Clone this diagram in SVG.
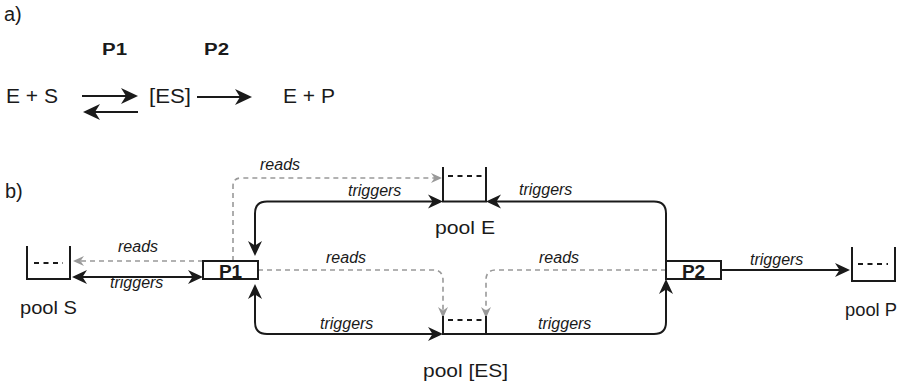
<svg xmlns="http://www.w3.org/2000/svg" width="908" height="387" viewBox="0 0 908 387">
  <style>
    text { font-family: "Liberation Sans", Arial, sans-serif; fill: #1a1a1a; }
    .big { font-size: 20px; }
    .pool-label { font-size: 17.5px; }
    .proc { font-size: 19px; font-weight: bold; text-anchor: middle; }
    .head { font-size: 16px; font-weight: bold; }
    .lbl { font-size: 16px; font-style: italic; }
    .pool { fill: none; stroke: #1a1a1a; stroke-width: 2; }
    .slot { fill: none; stroke: #1a1a1a; stroke-width: 2; stroke-dasharray: 5 4.5; }
    .box { fill: #fff; stroke: #1a1a1a; stroke-width: 2; }
    .trig { fill: none; stroke: #1a1a1a; stroke-width: 2; }
    .read { fill: none; stroke: #999; stroke-width: 1.6; stroke-dasharray: 5 4; }
    .eq { fill: none; stroke: #1a1a1a; stroke-width: 2; }
  </style>
  <defs>
    <marker id="arrow" markerUnits="userSpaceOnUse" viewBox="-9 -9 20 18" markerWidth="20" markerHeight="18" refX="0" refY="0" orient="auto-start-reverse">
      <path d="M8,0 L-7,-7 L-2.5,0 L-7,7 Z" fill="#1a1a1a"/>
    </marker>
    <marker id="arrow-gray" markerUnits="userSpaceOnUse" viewBox="-7 -7 15 14" markerWidth="15" markerHeight="14" refX="0" refY="0" orient="auto-start-reverse">
      <path d="M6,0 L-5,-5 L-1.5,0 L-5,5 Z" fill="#999"/>
    </marker>
    <marker id="arrow-eq" markerUnits="userSpaceOnUse" viewBox="-9 -9 21 18" markerWidth="21" markerHeight="18" refX="0" refY="0" orient="auto">
      <path d="M10,0 L-7,-8 L-2,0 L-7,8 Z" fill="#1a1a1a"/>
    </marker>
  </defs>

  <!-- a) reaction scheme -->
  <g id="scheme">
    <text class="big" x="4" y="21">a)</text>
    <text class="head" x="102" y="55" textLength="25" lengthAdjust="spacingAndGlyphs">P1</text>
    <text class="head" x="204" y="55" textLength="25" lengthAdjust="spacingAndGlyphs">P2</text>
    <text class="big" x="6" y="103" textLength="52" lengthAdjust="spacingAndGlyphs">E + S</text>
    <text class="big" x="149" y="103" textLength="42" lengthAdjust="spacingAndGlyphs">[ES]</text>
    <text class="big" x="283" y="103" textLength="52" lengthAdjust="spacingAndGlyphs">E + P</text>
    <path class="eq" d="M82,96 H128" marker-end="url(#arrow-eq)"/>
    <path class="eq" d="M138,112 H93" marker-end="url(#arrow-eq)"/>
    <path class="eq" d="M197,97 H242" marker-end="url(#arrow-eq)"/>
  </g>

  <!-- b) pool / process net -->
  <text class="big" x="5" y="198">b)</text>

  <g id="connectors">
    <!-- reads -->
    <path class="read" d="M203,261 H79" marker-end="url(#arrow-gray)"/>
    <path class="read" d="M233,261 V186 Q233,178 241,178 H436" marker-end="url(#arrow-gray)"/>
    <path class="read" d="M258,270 H433 Q443,270 443,280 V312" marker-end="url(#arrow-gray)"/>
    <path class="read" d="M666,270 H496 Q486,270 486,280 V312" marker-end="url(#arrow-gray)"/>
    <!-- triggers -->
    <path class="trig" d="M80,277 H195" marker-start="url(#arrow)" marker-end="url(#arrow)"/>
    <path class="trig" d="M255,248 V213.5 Q255,201.5 267,201.5 H435" marker-start="url(#arrow)" marker-end="url(#arrow)"/>
    <path class="trig" d="M666,261 V213.5 Q666,201.5 654,201.5 H494" marker-end="url(#arrow)"/>
    <path class="trig" d="M721,270 H842" marker-end="url(#arrow)"/>
    <path class="trig" d="M255,292 V322 Q255,334 267,334 H435" marker-start="url(#arrow)" marker-end="url(#arrow)"/>
    <path class="trig" d="M486,334 H654 Q666,334 666,322 V287" marker-end="url(#arrow)"/>
    <!-- labels -->
    <text class="lbl" x="118" y="252">reads</text>
    <text class="lbl" x="110" y="288">triggers</text>
    <text class="lbl" x="260" y="170">reads</text>
    <text class="lbl" x="348" y="196">triggers</text>
    <text class="lbl" x="519" y="195">triggers</text>
    <text class="lbl" x="750" y="265">triggers</text>
    <text class="lbl" x="326" y="263">reads</text>
    <text class="lbl" x="539" y="263">reads</text>
    <text class="lbl" x="320" y="329">triggers</text>
    <text class="lbl" x="538" y="329">triggers</text>
  </g>

  <g id="poolS">
    <path class="pool" d="M27,246 V279 H70 V246"/>
    <path class="slot" d="M34,263 H63"/>
    <text class="pool-label" x="20" y="314" textLength="57" lengthAdjust="spacingAndGlyphs">pool S</text>
  </g>

  <g id="poolE">
    <path class="pool" d="M443,167 V201.5 H486 V167"/>
    <path class="slot" d="M448,176 H483"/>
    <text class="pool-label" x="435" y="234" textLength="60" lengthAdjust="spacingAndGlyphs">pool E</text>
  </g>

  <g id="poolES">
    <path class="pool" d="M443,316 V334 H486 V316"/>
    <path class="slot" d="M448,320 H482"/>
    <text class="pool-label" x="423" y="377" textLength="85" lengthAdjust="spacingAndGlyphs">pool [ES]</text>
  </g>

  <g id="poolP">
    <path class="pool" d="M852,247 V281 H895 V247"/>
    <path class="slot" d="M858,264 H888"/>
    <text class="pool-label" x="845" y="316" textLength="52" lengthAdjust="spacingAndGlyphs">pool P</text>
  </g>

  <g id="P1">
    <rect class="box" x="203" y="261" width="55" height="18"/>
    <text class="proc" x="230.5" y="277.5">P1</text>
  </g>

  <g id="P2">
    <rect class="box" x="666" y="261" width="55" height="18"/>
    <text class="proc" x="693.5" y="277.5">P2</text>
  </g>
</svg>
